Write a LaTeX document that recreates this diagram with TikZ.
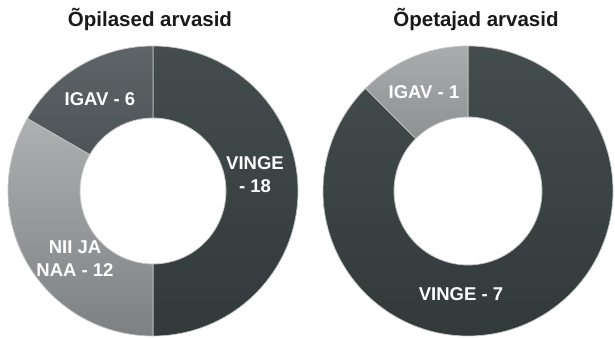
\documentclass[tikz,border=0pt]{standalone}
\usepackage{fontspec}
\setmainfont{Liberation Sans}
\usepackage{tikz}
\tikzset{>=latex}
\definecolor{vingecol}{HTML}{384142}
\definecolor{igavdark}{HTML}{50575A}
\definecolor{niicol}{HTML}{8E9293}
\definecolor{igavlight}{HTML}{9A9E9F}
\tikzset{
    seg/.style={draw=white!55!gray, line width=.7pt, line join=round},
    lbl/.style={text=white, font=\bfseries\fontsize{18.5}{23}\selectfont, inner sep=0pt, align=center},
    ttl/.style={text=black!90, font=\bfseries\fontsize{20.5}{24}\selectfont, inner sep=0pt, anchor=base}
}

\begin{document}
\begin{tikzpicture}[x=1pt, y=1pt]
    \useasboundingbox (0, 0) rectangle (615, 337);
    \node[ttl] (titlel) at (150, 310) {Õpilased arvasid};
    \node[ttl] (titler) at (476, 310) {Õpetajad arvasid};
    \begin{scope}[shift={(153, 146)}]
        \path[seg, top color=vingecol!94!white, bottom color=vingecol!88!black](90:145)arc(90:-90:145)--(-90:73)arc(-90:90:73)--cycle;
        \path[seg, top color=niicol!72!white, bottom color=niicol!88!black](270:145)arc(270:150:145)--(150:73)arc(150:270:73)--cycle;
        \path[seg, top color=igavdark!92!white, bottom color=igavdark!96!black](150:145)arc(150:90:145)--(90:73)arc(90:150:73)--cycle;
    \end{scope}
    \begin{scope}[shift={(468, 146)}]
        \path[seg, top color=vingecol!94!white, bottom color=vingecol!88!black](90:145)arc(90:-225:145)--(135:74)arc(135:450:74)--cycle;
        \path[seg, top color=igavlight!85!white, bottom color=igavlight!92!black](135:145)arc(135:90:145)--(90:74)arc(90:135:74)--cycle;
    \end{scope}
    \node[lbl] (igavl) at (100, 237.5) {IGAV - 6};
    \node[lbl] (vingel) at (255, 162) {VINGE\\- 18};
    \node[lbl] (niil) at (75, 78) {NII JA\\NAA - 12};
    \node[lbl] (igavr) at (424, 244.5) {IGAV - 1};
    \node[lbl] (vinger) at (461, 42.5) {VINGE - 7};
\end{tikzpicture}
\end{document}
